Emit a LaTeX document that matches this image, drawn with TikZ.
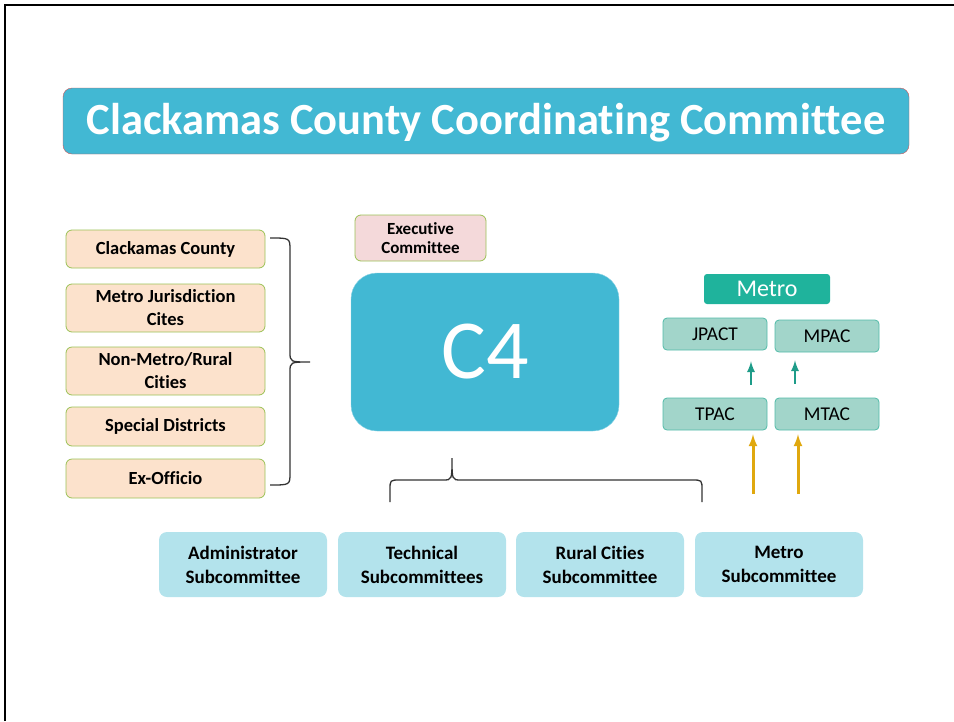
\documentclass[tikz,border=0pt]{standalone}
\usepackage{fontspec}
\setmainfont{Carlito}[Ligatures=CommonOff]
\usepackage{tikz}
\usetikzlibrary{arrows}
\definecolor{cblue}{HTML}{42B8D3}
\definecolor{titleedge}{HTML}{C9565A}
\definecolor{peach}{HTML}{FCE2CC}
\definecolor{leafgreen}{HTML}{9BC155}
\definecolor{pinkish}{HTML}{F4D9DA}
\definecolor{metrogreen}{HTML}{1FB39C}
\definecolor{mintbox}{HTML}{A2D5CA}
\definecolor{mintedge}{HTML}{52BBA8}
\definecolor{paleblue}{HTML}{B3E3EC}
\definecolor{tealarrow}{HTML}{1E9C89}
\definecolor{goldarrow}{HTML}{E0A80E}

\begin{document}
\begin{tikzpicture}[x=1pt,y=-1pt,
    member/.style={draw=leafgreen,fill=peach,rounded corners=6pt,line width=0.8pt,
      minimum width=199pt,align=center,font=\bfseries\fontsize{18.5}{23}\selectfont},
    metrobox/.style={draw=mintedge,fill=mintbox,rounded corners=4pt,line width=0.8pt,
      minimum width=104pt,minimum height=32pt,font=\fontsize{19.5}{21}\selectfont},
    subbox/.style={fill=paleblue,rounded corners=8pt,minimum width=168pt,minimum height=65pt,
      align=center,font=\bfseries\fontsize{19}{24}\selectfont},
    curly/.style={line width=1.3pt,draw=black!80}]
  \useasboundingbox (0,0) rectangle (954,721);
  \draw[line width=2.5pt] (5,721) -- (5,5) -- (954,5);

  % title
  \node[draw=titleedge,fill=cblue,rounded corners=9pt,minimum width=846pt,minimum height=66pt,
    text depth=4pt,text=white,font=\bfseries\fontsize{44.5}{48}\selectfont] (title) at (486,121) {Clackamas County Coordinating Committee};

  % members
  \node[member,minimum height=38pt] (cc) at (165.5,249) {Clackamas County};
  \node[member,minimum height=48pt] (mjc) at (165.5,308) {Metro Jurisdiction\\Cites};
  \node[member,minimum height=48pt] (nmr) at (165.5,371) {Non-Metro/Rural\\Cities};
  \node[member,minimum height=39pt] (sd) at (165.5,426.5) {Special Districts};
  \node[member,minimum height=39pt] (exo) at (165.5,478.5) {Ex-Officio};
  \coordinate (bt) at (270,238);
  \coordinate (bb) at (270,485);
  \draw[curly] (bt) .. controls (290,238) .. (290,250) -- (290,352)
    .. controls (290,362) .. (310,362) .. controls (290,362) .. (290,372)
    -- (290,473) .. controls (290,485) .. (bb);

  % C4
  \node[draw=leafgreen,fill=pinkish,rounded corners=6pt,line width=0.8pt,minimum width=131pt,
    minimum height=46pt,align=center,font=\bfseries\fontsize{17}{19.5}\selectfont] (exec) at (420.5,238) {Executive\\Committee};
  \node[draw=cblue!60,fill=cblue,rounded corners=26pt,minimum width=268pt,minimum height=158pt,
    text=white,font=\fontsize{84}{90}\selectfont] (cfour) at (485,352) {C4};

  % metro side
  \node[fill=metrogreen,rounded corners=3pt,minimum width=126pt,minimum height=30pt,
    text=white,font=\fontsize{24}{26}\selectfont] (metro) at (767,289) {Metro};
  \node[metrobox] (jpact) at (715,334) {JPACT};
  \node[metrobox] (mpac) at (827,336) {MPAC};
  \node[metrobox] (tpac) at (715,414) {TPAC};
  \node[metrobox] (mtac) at (827,414) {MTAC};
  \coordinate (ta) at (751,0);
  \coordinate (tb) at (795,0);
  \draw[-latex,tealarrow,line width=2.6pt,shorten <=13pt,shorten >=11pt] (tpac.north -| ta) -- (jpact.south -| ta);
  \draw[-latex,tealarrow,line width=2.6pt,shorten <=14pt,shorten >=8pt] (mtac.north -| tb) -- (mpac.south -| tb);
  \coordinate (ga) at (753,494);
  \coordinate (gb) at (798,494);
  \draw[-latex,goldarrow,line width=3pt,shorten >=4pt] (ga) -- (tpac.south -| ga);
  \draw[-latex,goldarrow,line width=3pt,shorten >=4pt] (gb) -- (mtac.south -| gb);

  % subcommittees
  \node[subbox] (admin) at (243,564.5) {Administrator\\Subcommittee};
  \node[subbox] (tech) at (422,564.5) {Technical\\Subcommittees};
  \node[subbox] (rural) at (600,564.5) {Rural Cities\\Subcommittee};
  \node[subbox] (msub) at (779,564.5) {Metro\\Subcommittee};
  \coordinate (sl) at (390,502);
  \coordinate (sr) at (702,502);
  \draw[curly] (sl) -- (390,490) .. controls (390,480) .. (400,480) -- (443,480)
    .. controls (452,480) .. (452,458) .. controls (452,480) .. (461,480)
    -- (692,480) .. controls (702,480) .. (702,490) -- (sr);
\end{tikzpicture}
\end{document}
